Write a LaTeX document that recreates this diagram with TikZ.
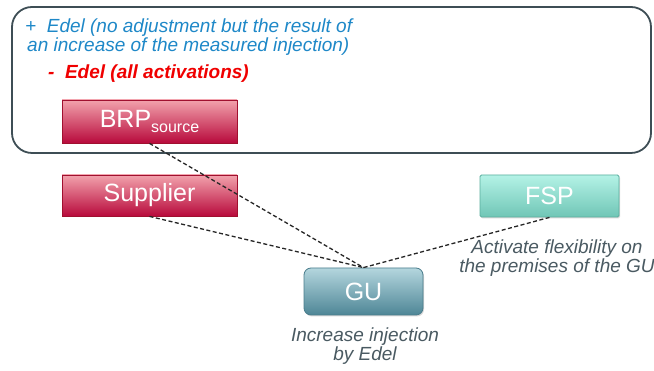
\documentclass[tikz,border=0pt]{standalone}
\usepackage{fontspec}
\setmainfont{Liberation Sans}
\usetikzlibrary{shadows}
\definecolor{frame}{HTML}{3E4E55}
\definecolor{bluetxt}{HTML}{1E88C8}
\definecolor{redtxt}{HTML}{F00000}
\definecolor{graytxt}{HTML}{4A5A62}
\definecolor{redtop}{HTML}{F2A2AC}
\definecolor{redbot}{HTML}{B80A3C}
\definecolor{redline}{HTML}{A0102F}
\definecolor{fsptop}{HTML}{B4F2E6}
\definecolor{fspbot}{HTML}{70C6B6}
\definecolor{fspline}{HTML}{5AAE9E}
\definecolor{gutop}{HTML}{B4D6DE}
\definecolor{gubot}{HTML}{4E8696}
\definecolor{guline}{HTML}{4A7D8C}
\tikzset{
  boxbase/.style={minimum height=42pt, text=white, font=\fontsize{25}{25}\selectfont,
    drop shadow={opacity=0.3, shadow xshift=1pt, shadow yshift=-1.5pt}, line width=0.8pt},
  redbox/.style={boxbase, top color=redtop, bottom color=redbot, draw=redline, minimum width=175pt},
  fspbox/.style={boxbase, top color=fsptop, bottom color=fspbot, draw=fspline, minimum width=139pt, rounded corners=1.5pt},
  gubox/.style={boxbase, top color=gutop, bottom color=gubot, draw=guline, minimum width=119pt, minimum height=47pt, rounded corners=7pt},
  link/.style={draw=black!85, line width=1.3pt, dash pattern=on 4pt off 2.5pt},
  note/.style={text=graytxt, font=\fontsize{19}{21}\selectfont\itshape, anchor=base, inner sep=0pt},
  toptxt/.style={anchor=base west, inner sep=0pt, font=\fontsize{19}{21}\selectfont\itshape}
}
\begin{document}
\begin{tikzpicture}[x=1pt,y=1pt]
\useasboundingbox (0,0) rectangle (654,371);
\fill[white] (0,0) rectangle (654,371);
% frame
\draw[frame, line width=1.8pt, rounded corners=20pt] (12,364) rectangle (651,218);
% texts
\node[toptxt, text=bluetxt] (t1) at (25,338) {+\ \ Edel (no adjustment but the result of};
\node[toptxt, text=bluetxt] (t2) at (27,319) {an increase of the measured injection)};
\node[toptxt, text=redtxt, font=\fontsize{19}{21}\selectfont\bfseries\itshape] (t3) at (48,292) {-\ \ Edel (all activations)};
% boxes
\node[redbox, minimum height=43pt] (brp) at (149.5,249.5) {BRP\raisebox{-0.45ex}{\fontsize{16}{16}\selectfont source}};
\node[redbox, minimum height=41pt] (sup) at (149.5,175.5) {Supplier};
\node[fspbox] (fsp) at (549.5,175) {FSP};
\node[gubox] (gu) at (363.5,79.5) {GU};
% links
\draw[link] (brp.south) -- (gu.north);
\draw[link] (sup.south) -- (gu.north);
\draw[link] (fsp.south) -- (gu.north);
% notes
\node[note] (n1) at (557,117) {Activate flexibility on};
\node[note] (n2) at (557,98) {the premises of the GU};
\node[note] (n3) at (365,29) {Increase injection};
\node[note] (n4) at (365,10) {by Edel};
\end{tikzpicture}
\end{document}
